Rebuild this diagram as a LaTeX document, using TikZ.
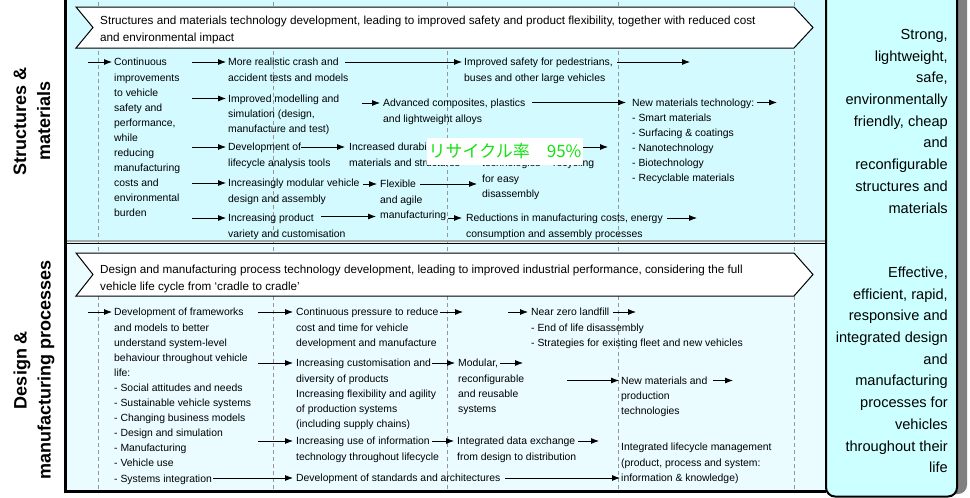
\documentclass[tikz,border=0pt]{standalone}
\usepackage{fontspec}
\setmainfont{Liberation Sans}
\newfontfamily\cjkfont{Noto Sans CJK JP}
\usetikzlibrary{arrows.meta}
\definecolor{upfill}{RGB}{210,250,255}
\definecolor{lowfill}{RGB}{234,252,255}
\definecolor{boxfill}{RGB}{204,255,255}
\definecolor{dashgray}{RGB}{150,150,150}
\definecolor{shadowgray}{RGB}{128,128,128}
\definecolor{overgreen}{RGB}{20,225,20}
\newcommand{\fsmall}{\fontsize{10.4}{15.1}\selectfont}
\newcommand{\fbanner}{\fontsize{11.7}{17}\selectfont}
\newcommand{\fright}{\fontsize{14.6}{21.7}\selectfont}
\newcommand{\flabel}{\fontsize{18}{24}\selectfont\bfseries}
\newcommand{\firstsm}{\rule{0pt}{10.57pt}}
\newcommand{\firstbn}{\rule{0pt}{11.9pt}}
\newcommand{\firstrt}{\rule{0pt}{15.19pt}}
\begin{document}
\begin{tikzpicture}[x=1pt,y=-1pt,
  txt/.style={anchor=north west, inner sep=0pt, align=left, font=\fsmall, yshift=6.87pt},
  arr/.style={line width=0.75pt, -{Latex[length=8pt,width=6pt]}},
  dashline/.style={draw=dashgray, line width=0.8pt, dash pattern=on 4pt off 3pt},
  bannerbox/.style={fill=white, draw=black, line width=1pt},
  bantxt/.style={anchor=north west, inner sep=0pt, align=left, font=\fbanner},
  righttxt/.style={anchor=north east, inner sep=0pt, align=right, font=\fright},
  sidelabel/.style={rotate=90, align=center, inner sep=0pt, font=\flabel}]
\useasboundingbox (0,0) rectangle (970,498);
\fill[white] (0,0) rectangle (970,498);
% panels
\fill[upfill] (65,-5) rectangle (826,243);
\fill[lowfill] (65,243) rectangle (826,491);
\foreach \x in {98,273,447,618,794} \draw[dashline] (\x,-5) -- (\x,490);
\draw[line width=2pt, black!35] (65,240.5) -- (826,240.5);
\draw[line width=1.3pt] (65,243.5) -- (826,243.5);
\draw[line width=3pt] (65,-5) -- (65,491) -- (826,491);
% right box
\fill[shadowgray, rounded corners=9pt] (850,-12) rectangle (967,494);
\draw[fill=boxfill, line width=2pt, rounded corners=9pt] (826,-12) rectangle (957,496.5);
\node[righttxt] (R1) at (948,24.1) {\firstrt Strong,\\lightweight,\\safe,\\environmentally\\friendly, cheap\\and\\reconfigurable\\structures and\\materials};
\node[righttxt] (R2) at (948,262.1) {\firstrt Effective,\\efficient, rapid,\\responsive and\\integrated design\\and\\manufacturing\\processes for\\vehicles\\throughout their\\life};
% side labels
\node[sidelabel] (S1) at (32,121) {Structures \&\\materials};
\node[sidelabel] (S2) at (34,370) {Design \&\\manufacturing processes};
% banners
\draw[bannerbox] (76,7) -- (794,7) -- (813,27.5) -- (794,48) -- (76,48) -- (93,27.5) -- cycle;
\draw[bannerbox] (76,253) -- (794,253) -- (813,274.5) -- (794,296) -- (76,296) -- (93,274.5) -- cycle;
\node[bantxt] (T1) at (100,12.1) {\firstbn Structures and materials technology development, leading to improved safety and product flexibility, together with reduced cost\\and environmental impact};
\node[bantxt] (T2) at (100,261.6) {\firstbn Design and manufacturing process technology development, leading to improved industrial performance, considering the full\\vehicle life cycle from ‘cradle to cradle’};
% upper texts
\node[txt] (U1) at (114,62) {\firstsm Continuous\\improvements\\to vehicle\\safety and\\performance,\\while\\reducing\\manufacturing\\costs and\\environmental\\burden};
\node[txt] (U2) at (228,62) {\firstsm More realistic crash and\\accident tests and models};
\node[txt] (U3) at (228,98.5) {\firstsm Improved modelling and\\simulation (design,\\manufacture and test)};
\node[txt] (U4) at (228,147) {\firstsm Development of\\lifecycle analysis tools};
\node[txt] (U5) at (228,183) {\firstsm Increasingly modular vehicle\\design and assembly};
\node[txt] (U6) at (228,218) {\firstsm Increasing product\\variety and customisation};
\node[txt] (U7) at (464,62) {\firstsm Improved safety for pedestrians,\\buses and other large vehicles};
\node[txt] (U8) at (383,103) {\firstsm Advanced composites, plastics\\and lightweight alloys};
\node[txt] (U9) at (632,102.5) {\firstsm New materials technology:\\- Smart materials\\- Surfacing \& coatings\\- Nanotechnology\\- Biotechnology\\- Recyclable materials};
\node[txt] (U10) at (349,147) {\firstsm Increased durability of\\materials and structures};
\node[txt] (U11) at (380,184) {\firstsm Flexible\\and agile\\manufacturing};
\node[txt] (U12) at (482,163) {\firstsm technologies\\for easy\\disassembly};
\node[txt] (U13) at (553,163) {\firstsm recycling};
\node[txt] (U14) at (466,218) {\firstsm Reductions in manufacturing costs, energy\\consumption and assembly processes};
% upper arrows
\coordinate (ua) at (88,62);
\coordinate (ub) at (192,62);
\coordinate (uc) at (192,98.5);
\coordinate (ud) at (192,147);
\coordinate (ue) at (192,183);
\coordinate (uf) at (192,218);
\coordinate (ug) at (345,62);
\coordinate (uh) at (362,103);
\coordinate (ui) at (532,102.5);
\coordinate (uj) at (757,102.5);
\coordinate (ujt) at (777,102.5);
\coordinate (uk) at (301,147);
\coordinate (ul) at (363,184);
\coordinate (um) at (420,184);
\coordinate (umt) at (477,184);
\coordinate (un) at (321,216.5);
\coordinate (unt) at (376,216.5);
\coordinate (uo) at (448,218);
\coordinate (up) at (667,218);
\coordinate (upt) at (697,218);
\coordinate (uq) at (617,62);
\coordinate (uqt) at (690,62);
\coordinate (ur) at (560,147);
\coordinate (urt) at (608,147);
\draw[arr] (ua) -- ([xshift=-2pt,yshift=-6.87pt]U1.north west);
\draw[arr] (ub) -- ([xshift=-2pt,yshift=-6.87pt]U2.north west);
\draw[arr] (uc) -- ([xshift=-2pt,yshift=-6.87pt]U3.north west);
\draw[arr] (ud) -- ([xshift=-2pt,yshift=-6.87pt]U4.north west);
\draw[arr] (ue) -- ([xshift=-2pt,yshift=-6.87pt]U5.north west);
\draw[arr] (uf) -- ([xshift=-2pt,yshift=-6.87pt]U6.north west);
\draw[arr] (ug) -- ([xshift=-2pt,yshift=-6.87pt]U7.north west);
\draw[arr] (uh) -- ([xshift=-3pt,yshift=-6.87pt]U8.north west);
\draw[arr] (ui) -- ([xshift=-6pt,yshift=-6.87pt]U9.north west);
\draw[arr] (uj) -- (ujt);
\draw[arr] (uk) -- ([xshift=-4pt,yshift=-6.87pt]U10.north west);
\draw[arr] (ul) -- ([xshift=-3pt,yshift=-6.87pt]U11.north west);
\draw[arr] (um) -- (umt);
\draw[arr] (un) -- (unt);
\draw[arr] (uo) -- ([xshift=-4pt,yshift=-6.87pt]U14.north west);
\draw[arr] (up) -- (upt);
\draw[arr] (uq) -- (uqt);
\draw[arr] (ur) -- (urt);
% overlay
\node[fill=white, minimum width=156pt, minimum height=27pt, inner sep=0pt, text=overgreen, font=\cjkfont\fontsize{17}{20}\selectfont] (ovl) at (505,151.5) {リサイクル率　95\%};
% lower texts
\node[txt] (L1) at (114,312) {\firstsm Development of frameworks\\and models to better\\understand system-level\\behaviour throughout vehicle\\life:\\- Social attitudes and needs\\- Sustainable vehicle systems\\- Changing business models\\- Design and simulation\\- Manufacturing\\- Vehicle use\\- Systems integration};
\node[txt] (L2) at (296,312) {\firstsm Continuous pressure to reduce\\cost and time for vehicle\\development and manufacture};
\node[txt] (L3) at (531,312) {\firstsm Near zero landfill\\- End of life disassembly\\- Strategies for existing fleet and new vehicles};
\node[txt] (L4) at (296,363) {\firstsm Increasing customisation and\\diversity of products\\Increasing flexibility and agility\\of production systems\\(including supply chains)};
\node[txt] (L5) at (458,363) {\firstsm Modular,\\reconfigurable\\and reusable\\systems};
\node[txt] (L6) at (621,380.5) {\firstsm New materials and\\production\\technologies};
\node[txt] (L7) at (296,441) {\firstsm Increasing use of information\\technology throughout lifecycle};
\node[txt] (L8) at (457,441) {\firstsm Integrated data exchange\\from design to distribution};
\node[txt] (L9) at (621,447) {\firstsm Integrated lifecycle management\\(product, process and system:\\information \& knowledge)};
\node[txt] (L10) at (296,478) {\firstsm Development of standards and architectures};
% lower arrows
\coordinate (la) at (88,312);
\coordinate (lb) at (258,312);
\coordinate (lc) at (440,312);
\coordinate (lct) at (463,312);
\coordinate (ld) at (508,312);
\coordinate (le) at (613,312);
\coordinate (let) at (636,312);
\coordinate (lf) at (258,363);
\coordinate (lg) at (432,363);
\coordinate (lh) at (500,363);
\coordinate (lht) at (523,363);
\coordinate (li) at (567,380.5);
\coordinate (lj) at (713,380.5);
\coordinate (ljt) at (733,380.5);
\coordinate (lk) at (258,441);
\coordinate (ll) at (432,441);
\coordinate (lm) at (578,441);
\coordinate (lmt) at (599,441);
\coordinate (ln) at (213,478);
\coordinate (lo) at (505,478);
\coordinate (lot) at (620,478);
\draw[arr] (la) -- ([xshift=-2pt,yshift=-6.87pt]L1.north west);
\draw[arr] (lb) -- ([xshift=-3pt,yshift=-6.87pt]L2.north west);
\draw[arr] (lc) -- (lct);
\draw[arr] (ld) -- ([xshift=-3pt,yshift=-6.87pt]L3.north west);
\draw[arr] (le) -- (let);
\draw[arr] (lf) -- ([xshift=-3pt,yshift=-6.87pt]L4.north west);
\draw[arr] (lg) -- ([xshift=-3pt,yshift=-6.87pt]L5.north west);
\draw[arr] (lh) -- (lht);
\draw[arr] (li) -- ([xshift=-2pt,yshift=-6.87pt]L6.north west);
\draw[arr] (lj) -- (ljt);
\draw[arr] (lk) -- ([xshift=-3pt,yshift=-6.87pt]L7.north west);
\draw[arr] (ll) -- ([xshift=-3pt,yshift=-6.87pt]L8.north west);
\draw[arr] (lm) -- (lmt);
\draw[arr] (ln) -- ([xshift=-3pt,yshift=-6.87pt]L10.north west);
\draw[arr] (lo) -- (lot);
\end{tikzpicture}
\end{document}
